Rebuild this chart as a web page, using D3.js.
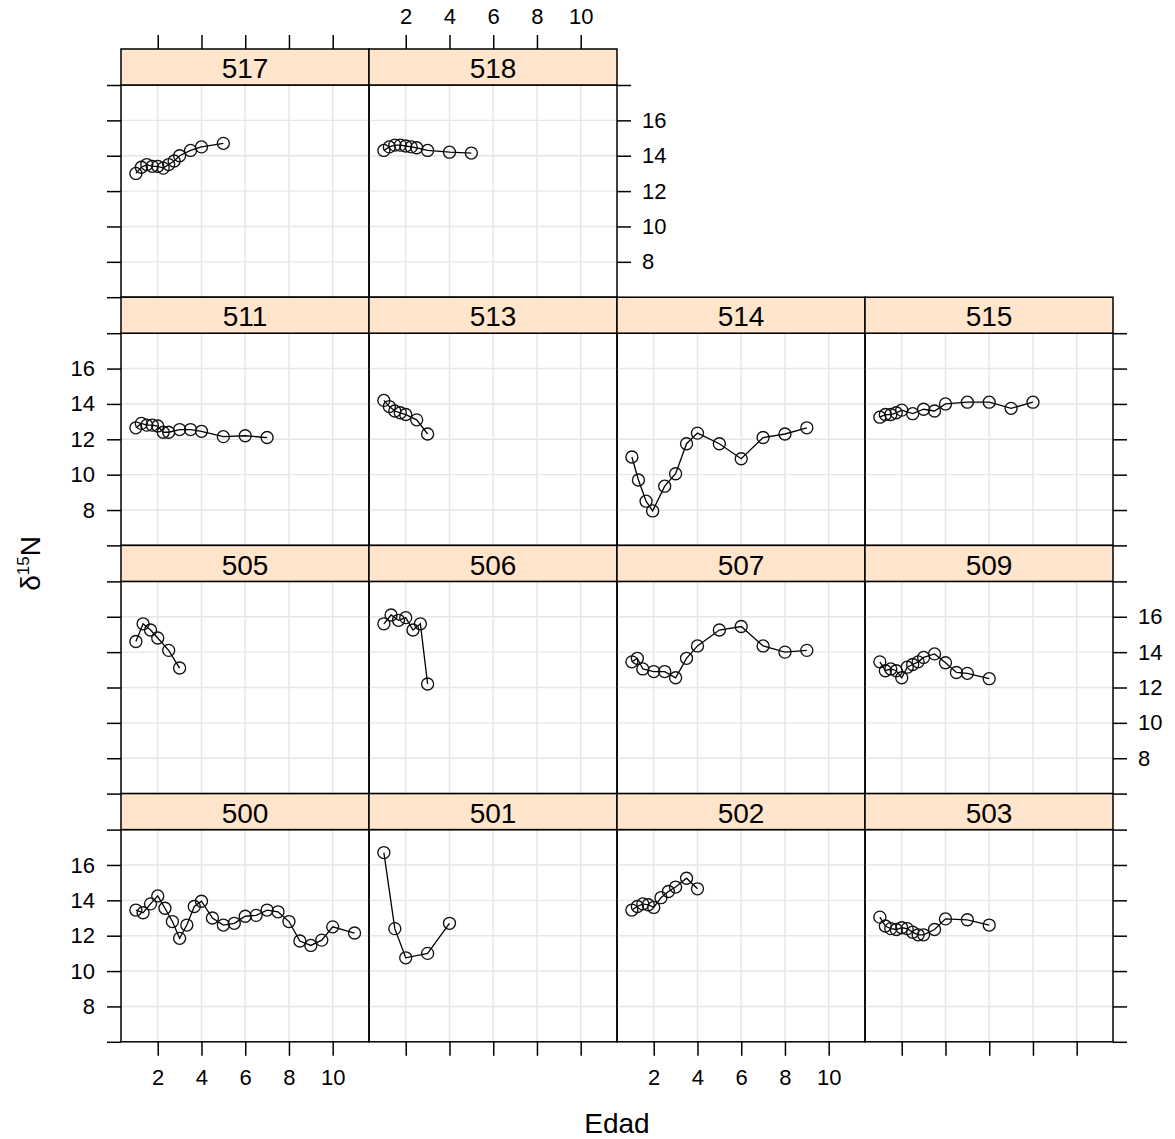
<!DOCTYPE html>
<html>
<head>
<meta charset="utf-8">
<script src="https://cdn.jsdelivr.net/npm/d3@7"></script>
<style>
  html, body { margin: 0; padding: 0; background: #fff; }
  svg { display: block; font-family: "Liberation Sans", Arial, Helvetica, sans-serif; }
</style>
</head>
<body>
<svg id="chart" width="1175" height="1139"></svg>
<script>
// ---------- data ----------
const panelIds = ["517","518","511","513","514","515","505","506","507","509","500","501","502","503"];

const age517 = [1,1.25,1.5,1.75,2,2.25,2.5,2.75,3,3.5,4,5];
const n517   = [13.0,13.35,13.5,13.4,13.4,13.3,13.5,13.7,14.0,14.3,14.5,14.7];
const age518 = [1,1.25,1.5,1.75,2,2.25,2.5,3,4,5];
const n518   = [14.3,14.5,14.6,14.6,14.55,14.5,14.45,14.3,14.2,14.15];

const age511 = [1,1.25,1.5,1.75,2,2.25,2.5,3,3.5,4,5,6,7];
const n511   = [12.65,12.9,12.8,12.8,12.75,12.4,12.4,12.55,12.55,12.45,12.15,12.2,12.1];
const age513 = [1,1.25,1.5,1.75,2,2.5,3];
const n513   = [14.2,13.85,13.6,13.5,13.4,13.1,12.3];
const age514 = [1,1.3,1.65,1.95,2.5,3,3.5,4,5,6,7,8,9];
const n514   = [11.0,9.7,8.5,7.95,9.35,10.05,11.75,12.35,11.75,10.9,12.1,12.3,12.65];
const age515 = [1,1.25,1.5,1.75,2,2.5,3,3.5,4,5,6,7,8];
const n515   = [13.25,13.4,13.4,13.5,13.65,13.45,13.7,13.6,14.0,14.1,14.1,13.75,14.1];

const age505 = [1,1.33,1.67,2,2.5,3];
const n505   = [14.6,15.6,15.25,14.8,14.1,13.1];
const age506 = [1,1.33,1.67,2,2.33,2.67,3];
const n506   = [15.6,16.1,15.8,15.95,15.25,15.6,12.2];
const age507 = [1,1.25,1.5,2,2.5,3,3.5,4,5,6,7,8,9];
const n507   = [13.45,13.65,13.05,12.9,12.9,12.55,13.65,14.35,15.25,15.45,14.35,14.0,14.1];
const age509 = [1,1.25,1.5,1.75,2,2.25,2.5,2.75,3,3.5,4,4.5,5,6];
const n509   = [13.45,12.95,13.05,12.95,12.55,13.15,13.3,13.45,13.7,13.9,13.4,12.85,12.8,12.5];

const age500 = [1,1.33,1.67,2,2.33,2.67,3,3.33,3.67,4,4.5,5,5.5,6,6.5,7,7.5,8,8.5,9,9.5,10,11];
const n500   = [13.45,13.3,13.8,14.25,13.55,12.8,11.85,12.6,13.65,13.95,13.0,12.6,12.7,13.1,13.15,13.45,13.35,12.8,11.7,11.45,11.75,12.5,12.15];
const age501 = [1,1.5,2,3,4];
const n501   = [16.7,12.4,10.75,11.0,12.7];
const age502 = [1,1.25,1.5,1.75,2,2.33,2.67,3,3.5,4];
const n502   = [13.45,13.65,13.8,13.75,13.6,14.15,14.5,14.75,15.25,14.65];
const age503 = [1,1.25,1.5,1.75,2,2.25,2.5,2.75,3,3.5,4,5,6];
const n503   = [13.05,12.55,12.4,12.35,12.45,12.4,12.2,12.05,12.05,12.35,12.95,12.9,12.6];

const xTicks = [2,4,6,8,10];
const xTickLabels = ["2","4","6","8","10"];
const yTicks = [6,8,10,12,14,16,18];
const yTickLabels = ["","8","10","12","14","16",""];

const ages = {"517":age517,"518":age518,"511":age511,"513":age513,"514":age514,"515":age515,
  "505":age505,"506":age506,"507":age507,"509":age509,"500":age500,"501":age501,"502":age502,"503":age503};
const vals = {"517":n517,"518":n518,"511":n511,"513":n513,"514":n514,"515":n515,
  "505":n505,"506":n506,"507":n507,"509":n509,"500":n500,"501":n501,"502":n502,"503":n503};

// ---------- layout ----------
const left = 121, colW = 248, top0 = 49, rowStep = 248.2, stripH = 36, panelH = 212.2;
const tickLen = 14;
// grid position of each panel (row, col), as.table order with a top row of 2
const layout = [[0,0],[0,1],[1,0],[1,1],[1,2],[1,3],[2,0],[2,1],[2,2],[2,3],[3,0],[3,1],[3,2],[3,3]];
const lastCol = [1,3,3,3];

const x = d3.scaleLinear().domain([0.32, 11.66]).range([0, colW]);
const y = d3.scaleLinear().domain([6, 18]).range([panelH, 0]);

const svg = d3.select("#chart");
const fontStrip = 28, fontTick = 22, fontTitle = 28;

panelIds.forEach((id, i) => {
  const [r, c] = layout[i];
  const px = left + c * colW;
  const sy = top0 + r * rowStep;
  const py = sy + stripH;
  const g = svg.append("g").attr("transform", `translate(${px},${py})`);

  // grid
  g.selectAll("line.gx").data(xTicks).join("line")
    .attr("x1", d => x(d)).attr("x2", d => x(d)).attr("y1", 0).attr("y2", panelH)
    .attr("stroke", "#e6e6e6").attr("stroke-width", 1.4);
  g.selectAll("line.gy").data(yTicks.slice(1, -1)).join("line")
    .attr("y1", d => y(d)).attr("y2", d => y(d)).attr("x1", 0).attr("x2", colW)
    .attr("stroke", "#e6e6e6").attr("stroke-width", 1.4);

  // data
  const pts = ages[id].map((a, k) => [a, vals[id][k]]);
  g.append("path").datum(pts)
    .attr("d", d3.line().x(d => x(d[0])).y(d => y(d[1])))
    .attr("fill", "none").attr("stroke", "#000").attr("stroke-width", 1.3);
  g.selectAll("circle").data(pts).join("circle")
    .attr("cx", d => x(d[0])).attr("cy", d => y(d[1])).attr("r", 6)
    .attr("fill", "none").attr("stroke", "#111").attr("stroke-width", 1.35);

  // panel border
  g.append("rect").attr("x", 0).attr("y", 0).attr("width", colW).attr("height", panelH)
    .attr("fill", "none").attr("stroke", "#000").attr("stroke-width", 1.5);

  // strip
  const sg = svg.append("g").attr("transform", `translate(${px},${sy})`);
  sg.append("rect").attr("x", 0).attr("y", 0).attr("width", colW).attr("height", stripH)
    .attr("fill", "#ffe5cc").attr("stroke", "#000").attr("stroke-width", 1.5);
  sg.append("text").attr("x", colW / 2).attr("y", stripH / 2 + fontStrip * 0.4)
    .attr("text-anchor", "middle").attr("font-size", fontStrip).attr("fill", "#000").text(id);

  // axes
  const styleAxis = (ag) => {
    ag.select(".domain").remove();
    ag.selectAll(".tick line").attr("stroke", "#000").attr("stroke-width", 1.5);
    ag.selectAll(".tick text").attr("font-size", fontTick).attr("fill", "#000")
      .attr("font-family", "\"Liberation Sans\", Arial, Helvetica, sans-serif");
  };
  if (c === 0) {
    const lab = (r === 1 || r === 3);
    const ax = d3.axisLeft(y).tickValues(yTicks).tickSize(tickLen).tickPadding(12)
      .tickFormat((d, k) => lab ? yTickLabels[k] : "");
    g.append("g").call(ax).call(styleAxis);
  }
  if (c === lastCol[r]) {
    const lab = (r === 0 || r === 2);
    const ax = d3.axisRight(y).tickValues(yTicks).tickSize(tickLen).tickPadding(11)
      .tickFormat((d, k) => lab ? yTickLabels[k] : "");
    g.append("g").attr("transform", `translate(${colW},0)`).call(ax).call(styleAxis);
  }
  if (r === 0) {
    const lab = (c % 2 === 1);
    const ax = d3.axisTop(x).tickValues(xTicks).tickSize(tickLen).tickPadding(11)
      .tickFormat((d, k) => lab ? xTickLabels[k] : "");
    g.append("g").attr("transform", `translate(0,${-stripH})`).call(ax).call(styleAxis);
  }
  if (r === 3) {
    const lab = (c % 2 === 0);
    const ax = d3.axisBottom(x).tickValues(xTicks).tickSize(tickLen).tickPadding(14)
      .tickFormat((d, k) => lab ? xTickLabels[k] : "");
    g.append("g").attr("transform", `translate(0,${panelH})`).call(ax).call(styleAxis);
  }
});

// titles
svg.append("text").attr("x", left + 2 * colW).attr("y", 1133)
  .attr("text-anchor", "middle").attr("font-size", fontTitle).attr("fill", "#000").text("Edad");

const yt = svg.append("text")
  .attr("transform", `translate(40,${top0 + 2 * rowStep + 18}) rotate(-90)`)
  .attr("text-anchor", "middle").attr("font-size", fontTitle).attr("fill", "#000");
yt.append("tspan").text("δ");
yt.append("tspan").attr("font-size", 17).attr("dy", -11).text("15");
yt.append("tspan").attr("dy", 11).text("N");
</script>
</body>
</html>
